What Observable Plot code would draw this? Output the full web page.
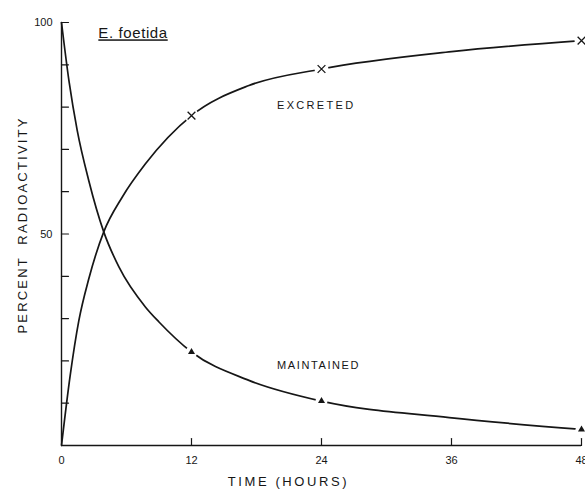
<!DOCTYPE html>
<html><head><meta charset="utf-8">
<script src="https://cdn.jsdelivr.net/npm/d3@7"></script>
<script src="https://cdn.jsdelivr.net/npm/@observablehq/plot@0.6"></script>
<style>body{margin:0;background:#fff} svg{display:block}</style>
</head><body><div id="chart"></div>
<script>
// Curves (hours, percent radioactivity)
const excretedHours = [0, 0.8, 1.6, 2.52, 3.9, 5.6, 7.75, 12, 17.3, 24, 36, 48];
const excretedPct   = [0, 16.5, 29.5, 39.4, 50.5, 58.7, 66.6, 78, 85.1, 89, 93.1, 95.7];
const maintainedHours = [0, 0.7, 1.45, 2.52, 3.9, 5.3, 7.76, 9.0, 12, 17.3, 24, 35.8, 48];
const maintainedPct   = [100, 86, 74.5, 62.6, 50.5, 42.2, 32.7, 29.2, 22.1, 15.4, 10.5, 6.6, 3.8];
// Sampled points (markers)
const sampleHours = [12, 24, 48];
const excretedSamples = [78, 89, 95.7];
const maintainedSamples = [22.1, 10.5, 3.8];
// Ticks
const xTicks = [0, 12, 24, 36, 48];
const yTicks = [10, 20, 30, 40, 50, 60, 70, 80, 90, 100];
const yLabels = [50, 100];

const excreted = excretedHours.map((h, i) => ({h, p: excretedPct[i]}));
const maintained = maintainedHours.map((h, i) => ({h, p: maintainedPct[i]}));
const exS = sampleHours.map((h, i) => ({h, p: excretedSamples[i]}));
const maS = sampleHours.map((h, i) => ({h, p: maintainedSamples[i]}));

const ink = "#161616";
const tickShape = {draw(ctx, l) { ctx.moveTo(0, 0); ctx.lineTo(0, -l); }};

const chart = Plot.plot({
  width: 585, height: 491,
  marginLeft: 61, marginRight: 4, marginTop: 22, marginBottom: 46,
  style: {background: "#fff", fontFamily: "Liberation Sans, Arial, sans-serif", color: ink},
  x: {domain: [0, 48], axis: null},
  y: {domain: [0, 100], axis: null},
  marks: [
    Plot.ruleY([0], {stroke: ink, strokeWidth: 1.4}),
    Plot.ruleX([0], {stroke: ink, strokeWidth: 1.4}),
    Plot.vector(xTicks.slice(1), {x: d => d, y: 0, length: 7, rotate: 0, anchor: "start", shape: tickShape, stroke: ink, strokeWidth: 1.2}),
    Plot.vector(yTicks, {x: 0, y: d => d, length: 7, rotate: 90, anchor: "start", shape: tickShape, stroke: ink, strokeWidth: 1.2}),
    Plot.text(xTicks, {x: d => d, y: 0, text: d => String(d), dy: 15, fontSize: 11, fill: ink}),
    Plot.text(yLabels, {x: 0, y: d => d, text: d => String(d), dx: -9, textAnchor: "end", fontSize: 11, fill: ink}),
    Plot.line(excreted, {x: "h", y: "p", curve: "monotone-x", stroke: ink, strokeWidth: 1.7}),
    Plot.line(maintained, {x: "h", y: "p", curve: "monotone-x", stroke: ink, strokeWidth: 1.7}),
    Plot.dot(exS, {x: "h", y: "p", r: 7, fill: "#fff", stroke: null}),
    Plot.dot(maS, {x: "h", y: "p", r: 6, fill: "#fff", stroke: null}),
    Plot.dot(exS, {x: "h", y: "p", r: 3.6, symbol: "times", stroke: ink, strokeWidth: 1.3}),
    Plot.dot(maS, {x: "h", y: "p", r: 2.6, symbol: "triangle", fill: ink, stroke: null}),
    Plot.text(["EXCRETED"], {x: 19.9, y: 80.3, textAnchor: "start", fontSize: 11, fill: ink}),
    Plot.text(["MAINTAINED"], {x: 19.9, y: 18.9, textAnchor: "start", fontSize: 11, fill: ink}),
    Plot.text(["E. foetida"], {x: 3.4, y: 97.4, textAnchor: "start", fontSize: 15, fill: ink}),
    Plot.text(["TIME (HOURS)"], {frameAnchor: "bottom", dy: 40, dx: -33, fontSize: 13, fill: ink}),
    Plot.text(["PERCENT  RADIOACTIVITY"], {frameAnchor: "left", textAnchor: "middle", dx: -39, dy: -9, rotate: -90, fontSize: 13, fill: ink})
  ]
});
document.getElementById("chart").append(chart);

// letter spacing / underline for the lettering-style labels
const spacing = {"EXCRETED": "2.3px", "MAINTAINED": "1.6px", "TIME (HOURS)": "2.6px", "PERCENT  RADIOACTIVITY": "2.2px", "E. foetida": "0.6px"};
d3.select(chart).selectAll("text").each(function() {
  const t = this.textContent;
  if (spacing[t]) this.style.letterSpacing = spacing[t];
  if (t === "E. foetida") this.style.textDecoration = "underline";
});
</script></body></html>
